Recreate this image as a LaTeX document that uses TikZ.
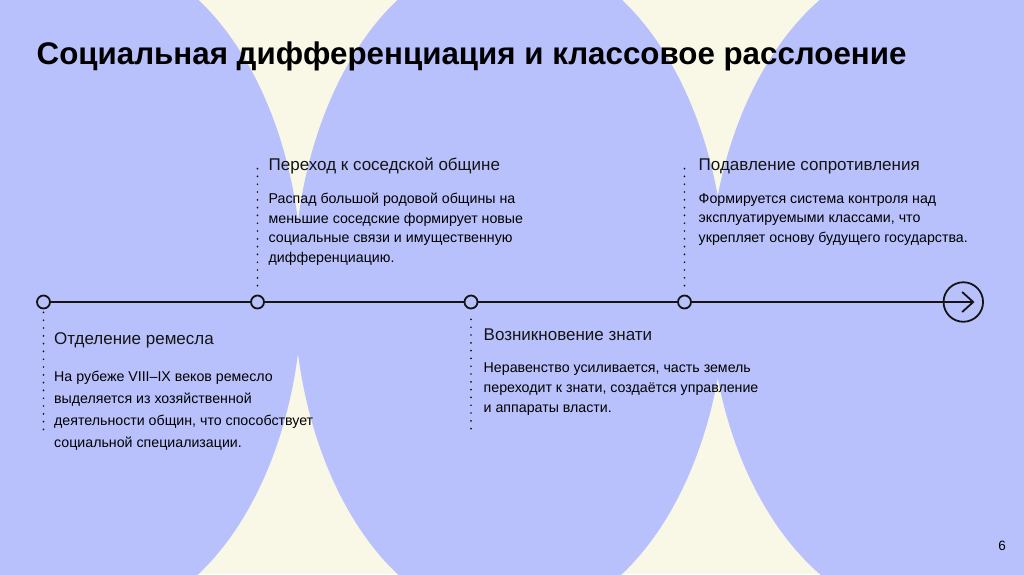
\documentclass[tikz,border=0pt]{standalone}
\usepackage{fontspec}
\setmainfont{Liberation Sans}
\usetikzlibrary{arrows.meta}
\definecolor{cream}{RGB}{249,248,230}
\definecolor{lilac}{RGB}{185,193,252}
\definecolor{ink}{RGB}{20,20,20}
\tikzset{
  slidepx/.style={x=1pt,y=-1pt},
  knot/.style={circle,draw=ink,line width=1.8pt,minimum size=13pt,inner sep=0pt},
  endknot/.style={circle,draw=ink,line width=1.8pt,minimum size=39.5pt,inner sep=0pt},
  stem/.style={ink,line width=1.9pt,line cap=round,dash pattern=on 0pt off 7.8pt},
  headtxt/.style={anchor=base west,inner sep=0pt,text=ink,font=\fontsize{17}{20}\selectfont},
  bodytxt/.style={anchor=base west,inner sep=0pt,align=left,font=\fontsize{14.2}{19.6}\selectfont},
}

\begin{document}
\begin{tikzpicture}[slidepx]
  \useasboundingbox (0,0) rectangle (1024,574);
  \begin{scope}
    \clip (0,0) rectangle (1024,574);
    \fill[cream] (0,0) rectangle (1024,574);
    \foreach \cx/\rx/\ry in {86.25/216/336,509.75/216/336,933.25/224/333}
      \fill[lilac] (\cx,287) ellipse (\rx pt and \ry pt);
  \end{scope}

  \node[anchor=base west,inner sep=0pt,font=\bfseries\fontsize{31.3}{36}\selectfont] (title) at (36.5,64.5)
    {Социальная дифференциация и классовое расслоение};

  \node[knot] (t1) at (43.5,302) {};
  \node[knot] (t2) at (257.5,302) {};
  \node[knot] (t3) at (471,302) {};
  \node[knot] (t4) at (684.5,302) {};
  \node[endknot] (tend) at (963.3,302) {};
  \coordinate (tip) at (974.5,302);
  \draw[ink,line width=1.8pt] (t1) -- (t2);
  \draw[ink,line width=1.8pt] (t2) -- (t3);
  \draw[ink,line width=1.8pt] (t3) -- (t4);
  \draw[ink,line width=1.8pt,-{Straight Barb[length=11pt,width=20pt]}] (t4) -- (tip);

  \coordinate (s1) at (43.5,433);
  \coordinate (s2) at (257.5,161);
  \coordinate (s3) at (471,433);
  \coordinate (s4) at (684.5,161);
  \draw[stem,shorten <=3pt] (t1) -- (s1);
  \draw[stem,shorten <=9pt] (t2) -- (s2);
  \draw[stem,shorten <=10pt] (t3) -- (s3);
  \draw[stem,shorten <=9pt] (t4) -- (s4);

  % multi-line nodes sit on the baseline of their last line
  \node[headtxt] (h1) at (54,344) {Отделение ремесла};
  \node[bodytxt,font=\fontsize{14.2}{21.8}\selectfont] (b1) at (54,447)
    {На рубеже VIII–IX веков ремесло\\выделяется из хозяйственной\\деятельности общин, что способствует\\социальной специализации.};
  \node[headtxt] (h2) at (268.5,170.5) {Переход к соседской общине};
  \node[bodytxt] (b2) at (268.5,262.3)
    {Распад большой родовой общины на\\меньшие соседские формирует новые\\социальные связи и имущественную\\дифференциацию.};
  \node[headtxt] (h3) at (483.5,340) {Возникновение знати};
  \node[bodytxt,font=\fontsize{14.2}{20}\selectfont] (b3) at (483.5,412.5)
    {Неравенство усиливается, часть земель\\переходит к знати, создаётся управление\\и аппараты власти.};
  \node[headtxt] (h4) at (698.5,170.5) {Подавление сопротивления};
  \node[bodytxt] (b4) at (698.5,242.5)
    {Формируется система контроля над\\эксплуатируемыми классами, что\\укрепляет основу будущего государства.};

  \node[anchor=base east,inner sep=0pt,font=\fontsize{13.5}{16}\selectfont] (pg) at (1006,550) {6};
\end{tikzpicture}
\end{document}
